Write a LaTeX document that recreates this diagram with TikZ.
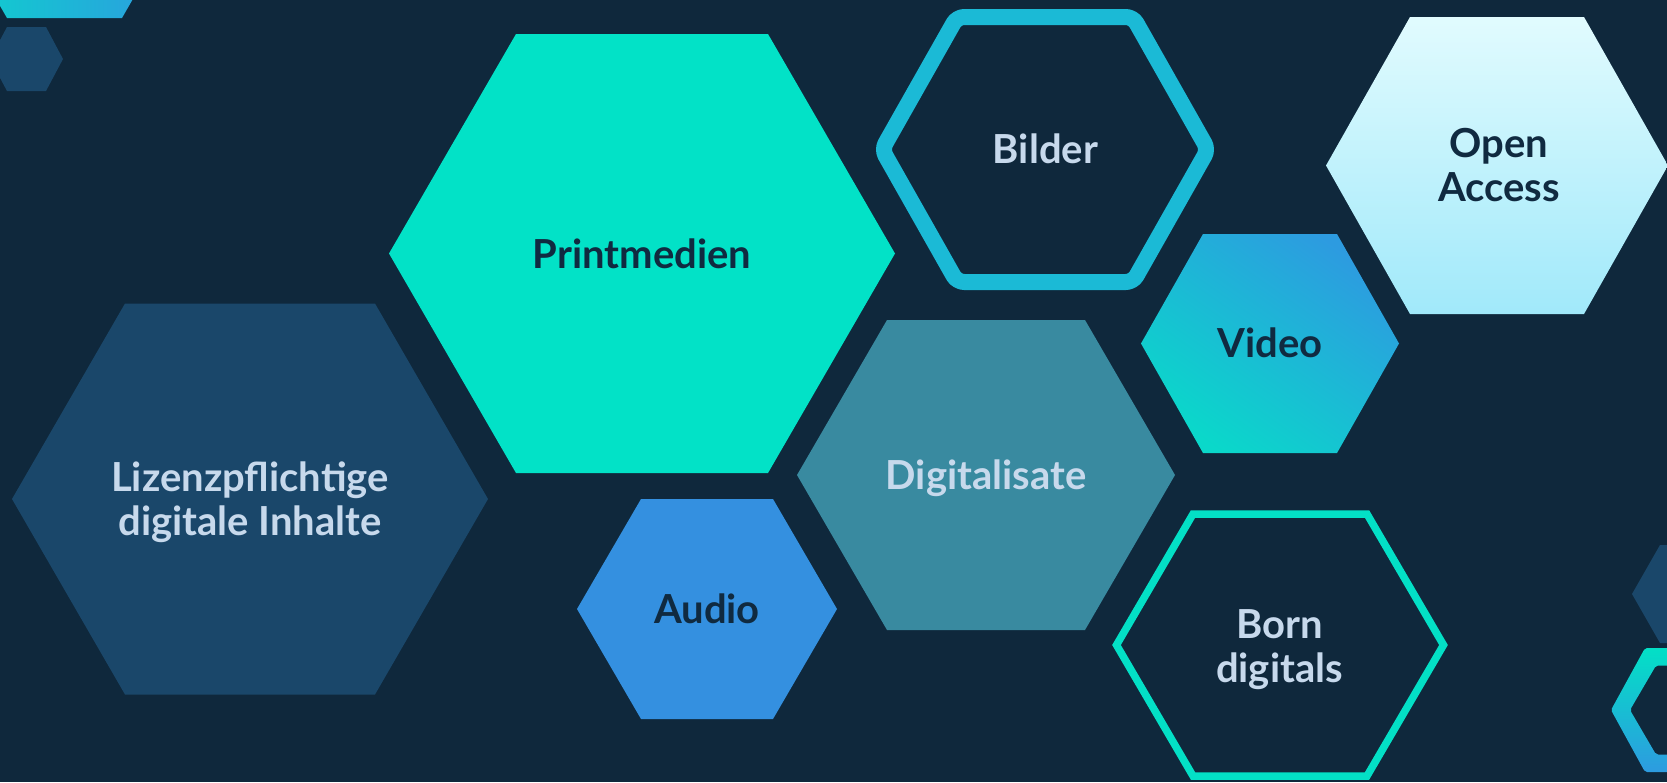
\documentclass[tikz,border=0pt]{standalone}
\usepackage{fontspec}
\setmainfont{Lato}
\usetikzlibrary{calc}

\definecolor{bg}{HTML}{0F283C}
\definecolor{navyhex}{HTML}{1A476A}
\definecolor{mint}{HTML}{02E2C7}
\definecolor{audioblue}{HTML}{3490E0}
\definecolor{petrol}{HTML}{398AA0}
\definecolor{cyanline}{HTML}{1BBAD6}
\definecolor{mintline}{HTML}{03E0C6}
\definecolor{vidteal}{HTML}{0AD8CA}
\definecolor{vidblue}{HTML}{2D9BE0}
\definecolor{oatop}{HTML}{E1FBFE}
\definecolor{oabottom}{HTML}{A1E9FA}
\definecolor{lighttext}{HTML}{C7D9EC}
\definecolor{darktext}{HTML}{102A40}

% flat-topped hexagon: centre x, centre y, half width, half top edge, half height
\newcommand\hexshape[5]{({#1-#3},{#2}) -- ({#1-#4},{#2-#5}) -- ({#1+#4},{#2-#5})
  -- ({#1+#3},{#2}) -- ({#1+#4},{#2+#5}) -- ({#1-#4},{#2+#5}) -- cycle}

\tikzset{
  label/.style={font=\bfseries\fontsize{40}{44}\selectfont, inner sep=0pt, anchor=base},
  light/.style={label, text=lighttext},
  dark/.style={label, text=darktext},
}
\newcommand\twolines[2]{\begin{tabular}[t]{@{}c@{}}#1\\#2\end{tabular}}

\begin{document}
\begin{tikzpicture}[x=1pt, y=-1pt]
  \fill[bg] (0,0) rectangle (1667,782);
  \useasboundingbox (0,0) rectangle (1667,782);

  % small background hexagons along the borders
  \shade[left color=vidteal!80!cyanline, right color=vidblue] \hexshape{64.5}{-82}{115}{57.5}{100};
  \fill[navyhex] \hexshape{26.5}{59}{36.5}{19.5}{32};
  \fill[navyhex] \hexshape{1688}{594}{56}{28}{49};
  \shade[top color=mintline, bottom color=vidblue, even odd rule, rounded corners=2]
    \hexshape{1681}{710}{70}{36}{62} \hexshape{1681}{710}{51}{25}{44.5};

  % main hexagons
  \fill[navyhex] \hexshape{250}{499}{238}{125}{195.5};
  \fill[mint] \hexshape{642}{253.5}{253}{126}{219.5};
  \fill[audioblue] \hexshape{707}{609}{130}{66}{110};
  \fill[petrol] \hexshape{986}{475}{189}{99}{155};
  \shade[top color=vidblue, bottom color=vidteal, shading angle=-35] \hexshape{1270}{343.5}{129}{67}{109.5};
  \shade[top color=oatop, bottom color=oabottom] \hexshape{1497}{165.5}{171}{87}{148.5};
  \draw[cyanline, line width=16, rounded corners=7, line join=round] \hexshape{1045}{149.5}{163}{88}{132.5};
  \draw[mintline, line width=7.5] \hexshape{1280}{645}{163.5}{87}{131};

  % labels
  \node[light] (lizenz) at (250,491) {\twolines{Lizenzpflichtige}{digitale Inhalte}};
  \node[dark] (print) at (642,268) {Printmedien};
  \node[dark] (audio) at (707,623) {Audio};
  \node[light] (digi) at (986,489) {Digitalisate};
  \node[dark] (video) at (1270,357) {Video};
  \node[light] (bilder) at (1045.5,163) {Bilder};
  \node[dark] (open) at (1499,157) {\twolines{Open}{Access}};
  \node[light] (born) at (1279.5,638) {\twolines{Born}{digitals}};
\end{tikzpicture}
\end{document}
